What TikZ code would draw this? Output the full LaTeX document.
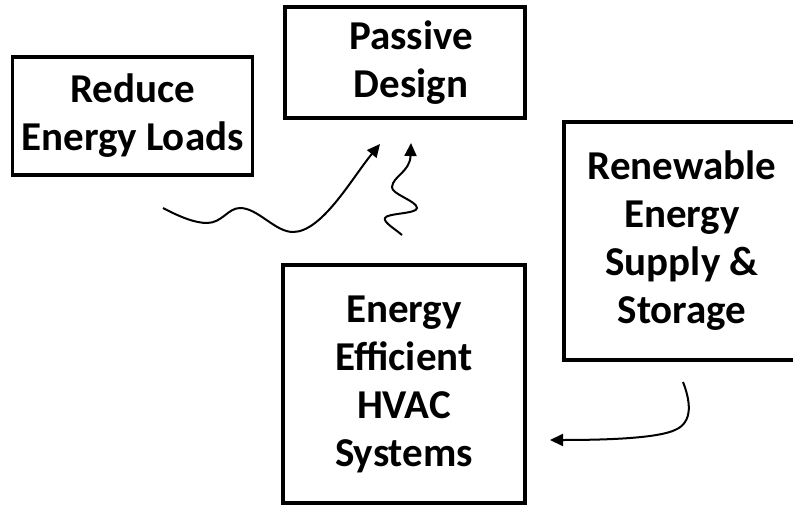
\documentclass[tikz,border=0pt]{standalone}
\usepackage{fontspec}
\setmainfont{Carlito}
\usetikzlibrary{positioning, arrows.meta}

\begin{document}
\begin{tikzpicture}[x=1pt, y=-1pt,
    font=\fontsize{41}{48}\selectfont\bfseries,
    box/.style={draw, line width=3.5pt, align=center, inner sep=0pt},
    flow/.style={line width=2pt, -{Triangle[length=13pt, width=12pt]}}]
  \useasboundingbox (0,0) rectangle (793,506);

  \node[box, minimum width=240pt, minimum height=118pt] (rel) at (132.5,116)
        {Reduce\\Energy Loads};
  \node[box, minimum width=240pt, minimum height=111pt] (pd) at (405,62.5)
        {\hspace*{12pt}Passive\\\hspace*{12pt}Design};
  \node[box, minimum width=236pt, minimum height=238pt] (res) at (682,241)
        {Renewable\\Energy\\Supply \&\\Storage};
  \node[box, minimum width=242pt, minimum height=238pt] (hvac) at (404,384)
        {Energy\\Efficient\\HVAC\\Systems};

  % free ends of the hand-drawn arrows
  \coordinate (wave-in) at (163,208);
  \coordinate (wave-out) at (380,144);
  \coordinate (zig-in) at (402,235);
  \coordinate (zig-out) at (411,143);
  \coordinate (turn-in) at (683,382);
  \coordinate (turn-out) at (550,440);

  \draw[flow] (wave-in) .. controls (180,217) and (195,223) .. (207,223)
        .. controls (222,223) and (228,208) .. (240,208)
        .. controls (258,208) and (275,232) .. (293,232)
        .. controls (322,232) and (352,178) .. (wave-out);
  \draw[flow] (zig-in) .. controls (395,229) and (383,222) .. (385,218)
        .. controls (387,213) and (417,214) .. (417,208)
        .. controls (417,201) and (391,194) .. (392,187)
        .. controls (393,176) and (410,172) .. (zig-out);
  \draw[flow] (turn-in) .. controls (690,400) and (694,422) .. (675,430)
        .. controls (660,437) and (620,440) .. (turn-out);
\end{tikzpicture}
\end{document}
